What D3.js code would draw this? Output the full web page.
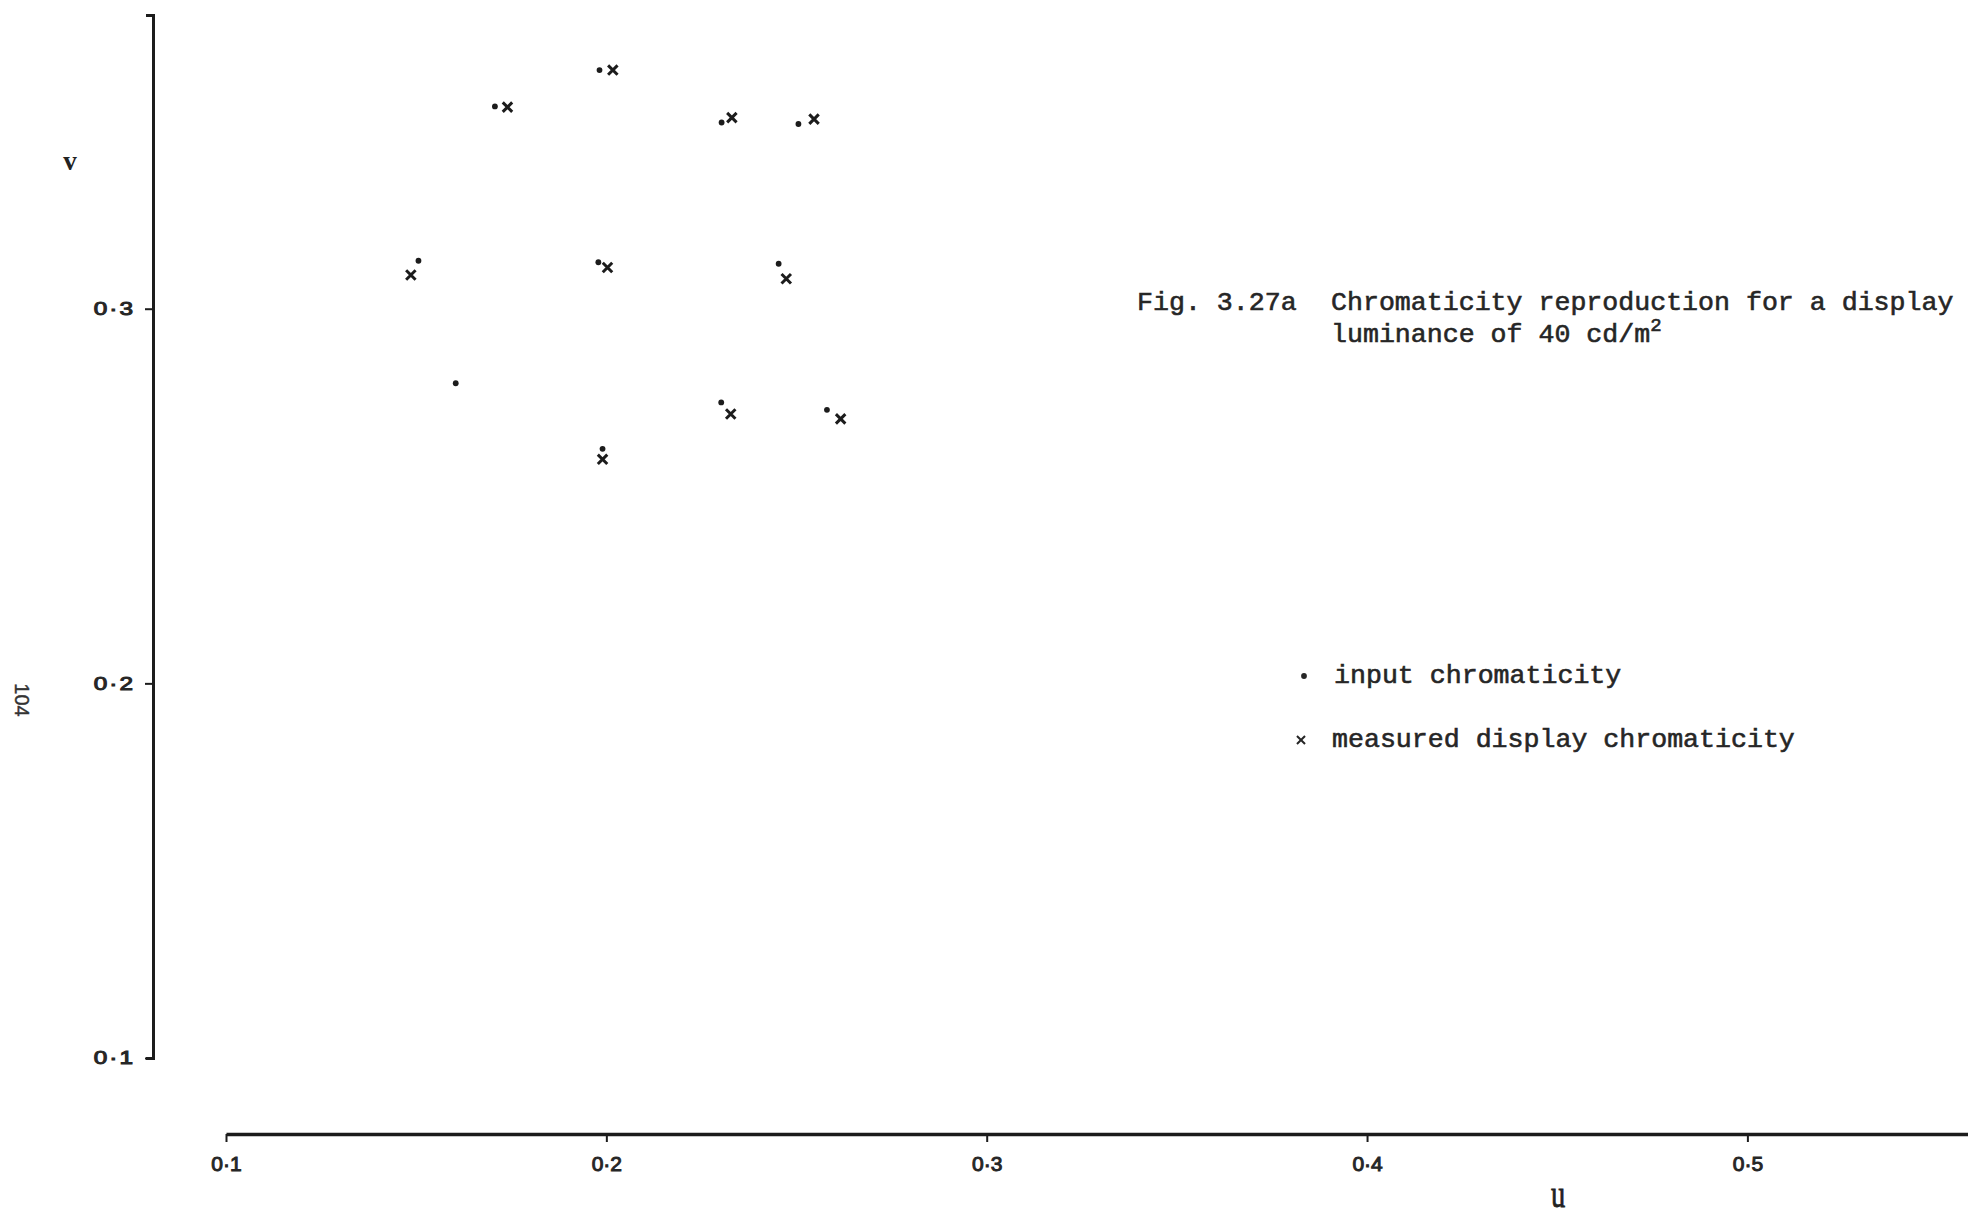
<!DOCTYPE html>
<html>
<head>
<meta charset="utf-8">
<script src="https://cdn.jsdelivr.net/npm/d3@7"></script>
<style>
  html, body { margin: 0; padding: 0; background: #fff; }
  svg { display: block; }
</style>
</head>
<body>
<svg id="chart" width="1968" height="1215"></svg>
<script>
// Chromaticity (u, v) of the test colours: requested input vs. measured on the display
const inputU    = [0.1707, 0.1982, 0.2303, 0.2505, 0.1506, 0.1979, 0.2453, 0.1604, 0.2302, 0.2580, 0.1990];
const inputV    = [0.3540, 0.3637, 0.3497, 0.3493, 0.3128, 0.3124, 0.3120, 0.2801, 0.2750, 0.2730, 0.2626];
const measuredU = [0.1740, 0.2017, 0.2330, 0.2546, 0.1486, 0.2003, 0.2473, null,   0.2327, 0.2616, 0.1990];
const measuredV = [0.3538, 0.3637, 0.3510, 0.3506, 0.3090, 0.3110, 0.3080, null,   0.2719, 0.2706, 0.2598];

const uTicks = [0.1, 0.2, 0.3, 0.4, 0.5];
const vTicks = [0.1, 0.2, 0.3];
const uDomain = [0.1, 0.558];
const vDomain = [0.1, 0.3784];

const titleLabel = "Fig. 3.27a";
const titleLine1 = "Chromaticity reproduction for a display";
const titleLine2 = "luminance of 40 cd/m";
const titleSup = "2";
const legendInput = "input chromaticity";
const legendMeasured = "measured display chromaticity";
const pageNumber = "104";

const svg = d3.select("#chart");
const ink = "#1c1c1c";
const textInk = "#262626";
const mono = "'Liberation Mono', 'Courier New', monospace";
const sans = "'Liberation Sans', Arial, sans-serif";
const serif = "'Liberation Serif', 'Times New Roman', serif";

const x = d3.scaleLinear().domain(uDomain).range([226, 1968]);
const y = d3.scaleLinear().domain(vDomain).range([1058, 15]);

const fmt = d => d3.format(".1f")(d).replace(".", "\u00B7");

// u axis along the bottom
const xAxisG = svg.append("g")
  .attr("transform", "translate(0,1134)")
  .call(d3.axisBottom(x).tickValues(uTicks).tickSize(8).tickSizeOuter(0).tickPadding(14).tickFormat(fmt))
  .attr("font-family", sans)
  .attr("font-size", 21);
xAxisG.select(".domain").attr("stroke", ink).attr("stroke-width", 3.5);
xAxisG.selectAll(".tick line").attr("stroke", ink).attr("stroke-width", 2);
xAxisG.selectAll(".tick text")
  .attr("fill", textInk)
  .attr("stroke", textInk)
  .attr("stroke-width", 1);

// v axis on the left
const yAxisG = svg.append("g")
  .attr("transform", "translate(153,0)")
  .call(d3.axisLeft(y).tickValues(vTicks).tickSize(8).tickSizeOuter(7).tickFormat(fmt))
  .attr("font-family", sans)
  .attr("font-size", 18);
yAxisG.select(".domain").attr("stroke", ink).attr("stroke-width", 3).attr("fill", "none");
yAxisG.selectAll(".tick line").attr("stroke", ink).attr("stroke-width", 2);
yAxisG.selectAll(".tick text")
  .attr("x", 0)
  .attr("transform", "translate(-18,0) scale(1.35,1)")
  .attr("fill", textInk)
  .attr("stroke", textInk)
  .attr("stroke-width", 1)
  .style("letter-spacing", "1.5px");

// axis names
svg.append("text").attr("x", 70).attr("y", 170)
  .attr("text-anchor", "middle")
  .style("font-family", serif).style("font-size", "27px").style("font-weight", "bold")
  .attr("fill", "#222").text("v");
svg.append("text")
  .attr("transform", "translate(1558,1207) scale(0.75,1)")
  .attr("text-anchor", "middle")
  .style("font-family", serif).style("font-size", "38px")
  .attr("fill", "#222").attr("stroke", "#222").attr("stroke-width", 0.8)
  .text("u");

// page number, printed sideways
svg.append("text")
  .attr("transform", "translate(15,700) rotate(90)")
  .attr("text-anchor", "middle")
  .style("font-family", sans).style("font-size", "20px")
  .attr("fill", "#333").attr("stroke", "#333").attr("stroke-width", 0.4)
  .text(pageNumber);

// data points
const inputPts = inputU.map((u, i) => ({u, v: inputV[i]}));
const measuredPts = measuredU.map((u, i) => ({u, v: measuredV[i]}))
  .filter(d => d.u != null && d.v != null);

svg.append("g").selectAll("circle")
  .data(inputPts)
  .join("circle")
  .attr("cx", d => x(d.u))
  .attr("cy", d => y(d.v))
  .attr("r", 2.9)
  .attr("fill", ink);

const cross = d3.symbol().type(d3.symbolX).size(60);
svg.append("g").selectAll("path")
  .data(measuredPts)
  .join("path")
  .attr("transform", d => `translate(${x(d.u)},${y(d.v)})`)
  .attr("d", cross)
  .attr("fill", "none")
  .attr("stroke", ink)
  .attr("stroke-width", 3);

// caption
const cap = svg.append("g")
  .attr("fill", textInk)
  .attr("stroke", textInk)
  .attr("stroke-width", 0.6)
  .style("font-family", mono)
  .style("font-size", "26.6px");
cap.append("text").attr("x", 1137).attr("y", 310).text(titleLabel);
cap.append("text").attr("x", 1331).attr("y", 310).text(titleLine1);
const l2 = cap.append("text").attr("x", 1331).attr("y", 342);
l2.append("tspan").text(titleLine2);
l2.append("tspan").attr("dy", -11).style("font-size", "19px").text(titleSup);

// legend
const leg = svg.append("g")
  .attr("fill", textInk)
  .style("font-family", mono)
  .style("font-size", "26.6px");
leg.append("circle").attr("cx", 1304).attr("cy", 676).attr("r", 2.9).attr("fill", textInk);
leg.append("text").attr("x", 1334).attr("y", 683)
  .attr("stroke", textInk).attr("stroke-width", 0.6).text(legendInput);
leg.append("path")
  .attr("transform", "translate(1301,740)")
  .attr("d", d3.symbol().type(d3.symbolX).size(44))
  .attr("fill", "none").attr("stroke", textInk).attr("stroke-width", 2);
leg.append("text").attr("x", 1332).attr("y", 747)
  .attr("stroke", textInk).attr("stroke-width", 0.6).text(legendMeasured);
</script>
</body>
</html>
